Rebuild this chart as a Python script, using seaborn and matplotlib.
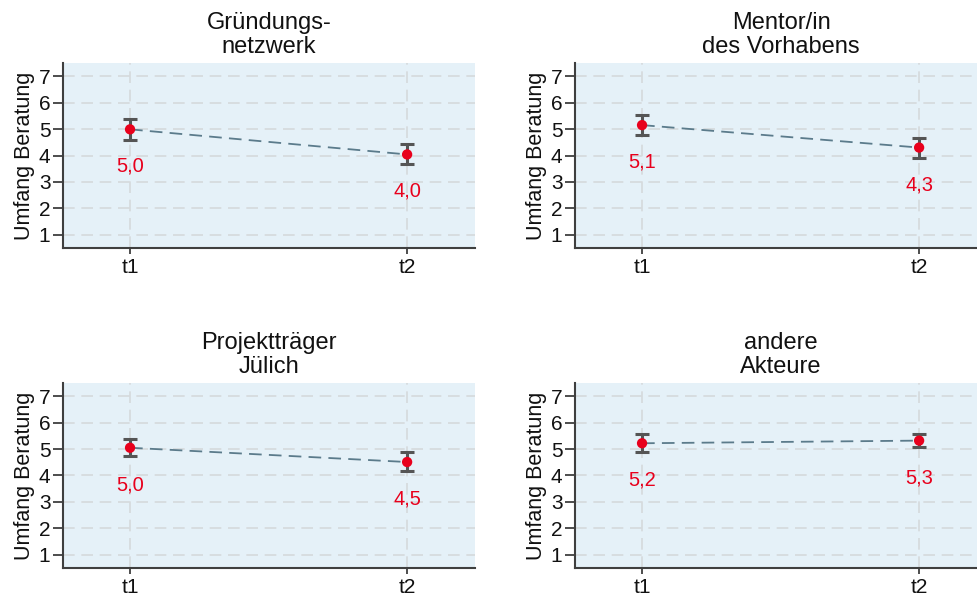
import matplotlib
matplotlib.use("Agg")
import matplotlib.pyplot as plt
import seaborn as sns
import pandas as pd
import numpy as np

# ---- data ----
titles = ["Gründungs-\nnetzwerk", "Mentor/in\ndes Vorhabens", "Projektträger\nJülich", "andere\nAkteure"]
times = ["t1", "t2"]
means = [[4.99, 4.04], [5.15, 4.30], [5.05, 4.51], [5.22, 5.32]]
ci_low = [[4.58, 3.67], [4.79, 3.89], [4.75, 4.16], [4.90, 5.07]]
ci_high = [[5.38, 4.43], [5.52, 4.67], [5.37, 4.88], [5.56, 5.57]]
labels = [["5,0", "4,0"], ["5,1", "4,3"], ["5,0", "4,5"], ["5,2", "5,3"]]
yticks = [1, 2, 3, 4, 5, 6, 7]
ylabel = "Umfang Beratung"

sns.set_theme(style="white")
plt.rcParams["font.family"] = ["Liberation Sans", "DejaVu Sans"]

BG = "#e5f1f8"
GRID = "#d5d9dc"
RED = "#e8001c"
ERR = "#555555"
LINE = "#5b7b8b"
SPINE = "#3f3f3f"

fig = plt.figure(figsize=(9.77, 6), dpi=100)
W, H = 977, 600
positions = [(63, 63), (575, 63), (63, 383), (575, 383)]
aw, ah = 412, 185

for i, (px, py) in enumerate(positions):
    ax = fig.add_axes([px / W, 1 - (py + ah) / H, aw / W, ah / H])
    ax.set_facecolor(BG)
    df = pd.DataFrame({"t": times, "m": means[i]})
    sns.lineplot(data=df, x="t", y="m", ax=ax, color=LINE, linewidth=1.3,
                 dashes=False, linestyle=(0, (7, 4)), zorder=2)
    xs = np.arange(len(times))
    m = np.array(means[i])
    lo = m - np.array(ci_low[i])
    hi = np.array(ci_high[i]) - m
    ax.errorbar(xs, m, yerr=[lo, hi], fmt="none", ecolor=ERR, elinewidth=2.2,
                capsize=4.8, capthick=2.2, zorder=3)
    sns.scatterplot(data=df, x="t", y="m", ax=ax, color=RED, s=55,
                    edgecolor="none", zorder=4)
    for x, y, lab in zip(xs, m, labels[i]):
        ax.annotate(lab, (x, y), xytext=(0, -37), textcoords="offset pixels",
                    ha="center", va="center", color=RED, fontsize=14.5)
    ax.set_xlim(-0.242, 1.245)
    ax.set_ylim(0.5, 7.5)
    ax.set_yticks(yticks)
    ax.set_yticklabels([str(v) for v in yticks])
    ax.set_xticks(xs)
    ax.set_xticklabels(times)
    ax.grid(True, color=GRID, linestyle=(0, (7, 4)), linewidth=1.2)
    ax.set_axisbelow(True)
    for s in ["top", "right"]:
        ax.spines[s].set_visible(False)
    for s in ["left", "bottom"]:
        ax.spines[s].set_color(SPINE)
        ax.spines[s].set_linewidth(1.5)
    ax.tick_params(axis="y", which="both", left=True, length=7, width=1.3,
                   color=SPINE, labelsize=15, pad=2, labelcolor="#111111")
    ax.tick_params(axis="x", which="both", bottom=True, length=4, width=1.3,
                   color=SPINE, labelsize=15, pad=3, labelcolor="#111111")
    ax.set_xlabel("")
    ax.set_ylabel(ylabel, fontsize=15.5, labelpad=3, color="#111111")
    ax.set_title(titles[i], fontsize=17, pad=7, color="#111111", linespacing=1.12)

fig.savefig("out.png", dpi=100)
